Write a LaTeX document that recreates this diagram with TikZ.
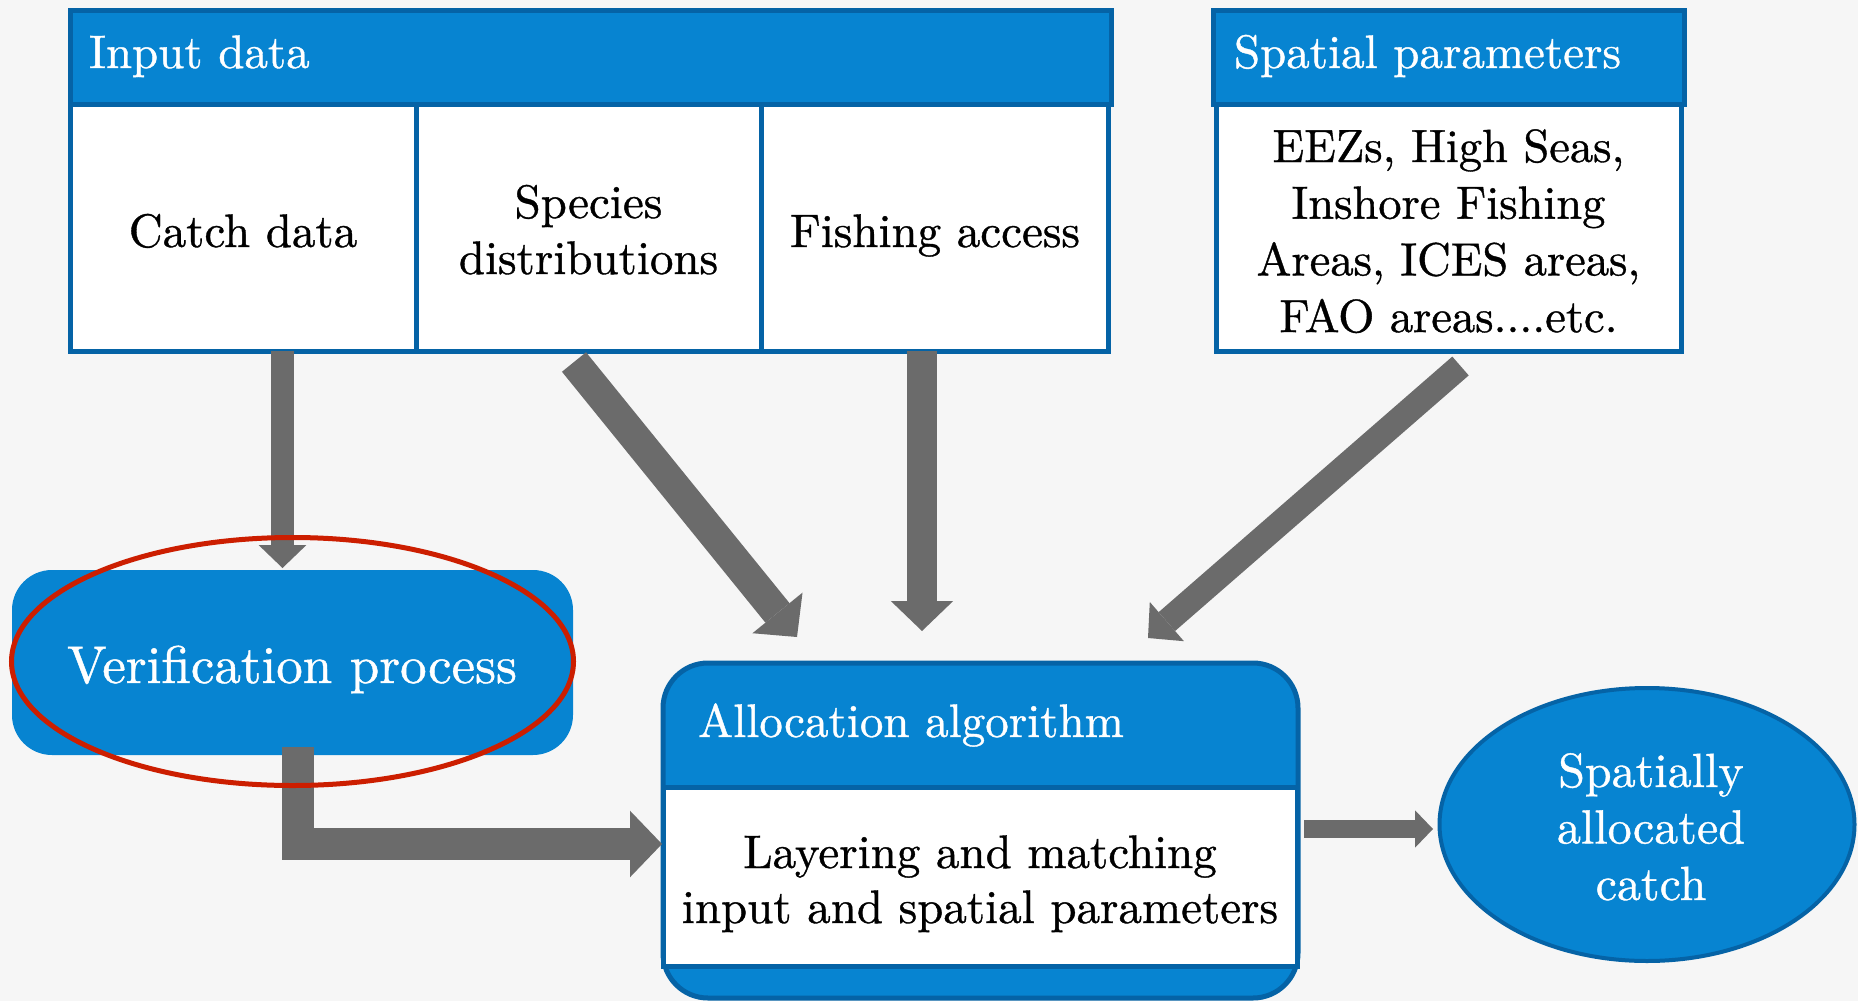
\documentclass[tikz,border=0pt]{standalone}
\usepackage{fontspec}
\setmainfont{lmroman10-regular.otf}[FakeBold=0.8]
\usetikzlibrary{arrows.meta,shapes.geometric,calc}
\definecolor{bgc}{HTML}{F6F6F6}
\definecolor{hblue}{HTML}{0784D1}
\definecolor{dblue}{HTML}{0563A6}
\definecolor{agray}{HTML}{6B6B6B}
\definecolor{ringred}{HTML}{CC1E00}
\tikzset{
  box/.style={rectangle, inner sep=0pt, outer sep=0pt, anchor=north west},
  hdrbox/.style={box, draw=dblue, fill=hblue, line width=5},
  cellbox/.style={box, draw=dblue, fill=white, line width=5},
  txt/.style={inner sep=0pt, outer sep=0pt, font=\fontsize{47}{56}\selectfont},
  wtxt/.style={txt, text=white},
  btxt/.style={txt, text=black},
  fat/.style={draw=agray, line cap=butt, line join=miter,
     -{Triangle[length=0pt 1, width=0pt 2.08, line width=0pt]}},
}
\begin{document}
\begin{tikzpicture}[x=1pt, y=-1pt]
\fill[bgc] (0,0) rectangle (1858,1001);
\useasboundingbox (0,0) rectangle (1858,1001);
% Input data block
\node[hdrbox, minimum width=1041, minimum height=94] (inhead) at (70,10) {};
\node[cellbox, minimum width=346, minimum height=247] (catch) at (70,104) {};
\node[cellbox, minimum width=345, minimum height=247] (species) at (416,104) {};
\node[cellbox, minimum width=347, minimum height=247] (fishing) at (761,104) {};
\node[wtxt, anchor=base west] (tinput) at (89,68) {Input data};
\node[btxt, anchor=base] (tcatch) at (243,247) {Catch data};
\node[btxt, text width=340, align=center, anchor=base] (tspecies) at (588.5,218) {Species\\distributions};
\node[btxt, anchor=base] (tfishing) at (935,247) {Fishing access};
% Spatial parameters block
\node[hdrbox, minimum width=471, minimum height=94] (sphead) at (1213,10) {};
\node[cellbox, minimum width=465, minimum height=247] (spbody) at (1216,104) {};
\node[wtxt, anchor=base west] (tsphead) at (1234,68) {Spatial parameters};
\node[btxt, font=\fontsize{46.5}{56.7}\selectfont, text width=460, align=center, anchor=base] (tspbody) at (1448.5,162)
  {EEZs, High Seas,\\Inshore Fishing\\Areas, ICES areas,\\FAO areas....etc.};
% Verification process
\node[box, fill=hblue, rounded corners=40, minimum width=561, minimum height=185] (verif) at (12,570) {};
\node[wtxt, font=\fontsize{53}{60}\selectfont, anchor=base] (tverif) at (292,683) {Verification process};
% Allocation algorithm
\node[box, draw=dblue, fill=hblue, line width=5, rounded corners=45, minimum width=635, minimum height=335] (alloc) at (663,663) {};
\node[cellbox, minimum width=634, minimum height=179] (allocbody) at (663,787) {};
\node[wtxt, anchor=base west] (talloc) at (698,737) {Allocation algorithm};
\node[btxt, font=\fontsize{47}{55}\selectfont, text width=630, align=center, anchor=base] (tallocbody) at (980,868)
  {Layering and matching\\input and spatial parameters};
% Result
\node[ellipse, draw=dblue, fill=hblue, line width=4, inner sep=0pt, minimum width=415, minimum height=273] (result) at (1647,824.5) {};
\node[wtxt, font=\fontsize{48}{56.5}\selectfont, text width=300, align=center, anchor=base] (tresult) at (1651,787)
  {Spatially\\allocated\\catch};
% arrow end points
\coordinate (tipverif) at (282.5,568);
\coordinate (tipa) at (797,637);
\coordinate (tipb) at (922,631);
\coordinate (tipc) at (1148,638);
\coordinate (tipd) at (662,844);
\coordinate (tipe) at (1433,829);
% arrows
\draw[fat, line width=23] ($(catch.south)+(39.5,0)$) -- (tipverif);
\draw[fat, line width=31] ($(species.south)+(-14.5,11)$) -- (tipa);
\draw[fat, line width=30] ($(fishing.south)+(-12.5,0)$) -- (tipb);
\draw[fat, line width=25] ($(spbody.south)+(12,15)$) -- (tipc);
\draw[fat, line width=32] ($(verif.south)+(5,-8)$) |- (tipd);
\draw[fat, line width=18] ($(alloc.east)+(6,-1.5)$) -- (tipe);
% red highlight ring
\node[ellipse, draw=ringred, line width=5, inner sep=0pt, minimum width=562, minimum height=248] (ring) at (292.5,661.5) {};
\end{tikzpicture}
\end{document}
